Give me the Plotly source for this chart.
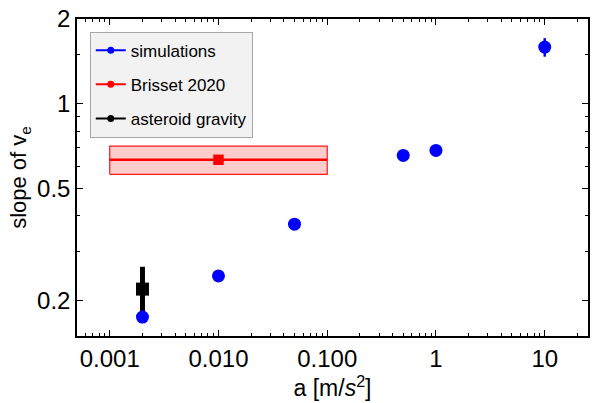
import plotly.graph_objects as go

# ---- data ----
sim_a = [0.002, 0.01, 0.05, 0.5, 1, 10]
sim_slope = [0.175, 0.245, 0.374, 0.656, 0.683, 1.59]
sim_err = [0, 0, 0, 0, 0, 0.12]

brisset_a = [0.01]
brisset_slope = [0.633]
brisset_amin = 0.001
brisset_amax = 0.1
brisset_low = 0.562
brisset_high = 0.708

ast_a = [0.002]
ast_slope = [0.22]
ast_err_plus = [0.044]
ast_err_minus = [0.044]

x_tickvals = [0.001, 0.01, 0.1, 1, 10]
x_ticktext = ["0.001", "0.010", "0.100", "1", "10"]
x_minor = [0.0006, 0.0007, 0.0008, 0.0009,
           0.002, 0.003, 0.004, 0.005, 0.006, 0.007, 0.008, 0.009,
           0.02, 0.03, 0.04, 0.05, 0.06, 0.07, 0.08, 0.09,
           0.2, 0.3, 0.4, 0.5, 0.6, 0.7, 0.8, 0.9,
           2, 3, 4, 5, 6, 7, 8, 9, 20]
y_tickvals = [0.2, 0.5, 1, 2]
y_ticktext = ["0.2", "0.5", "1", "2"]
y_minor = [0.3, 0.4, 0.6, 0.7, 0.8, 0.9, 1.5]

FONT = "Liberation Sans, Arial, sans-serif"

fig = go.Figure()

# Brisset band
fig.add_trace(go.Scatter(
    x=[brisset_amin, brisset_amax, brisset_amax, brisset_amin, brisset_amin],
    y=[brisset_low, brisset_low, brisset_high, brisset_high, brisset_low],
    mode="lines", fill="toself", fillcolor="rgba(255,0,0,0.2)",
    line=dict(color="rgba(255,0,0,0.9)", width=1.2),
    showlegend=False, hoverinfo="skip"))
fig.add_trace(go.Scatter(
    x=[brisset_amin, brisset_amax], y=[brisset_slope[0], brisset_slope[0]],
    mode="lines", line=dict(color="#ff0000", width=2.5),
    showlegend=False, hoverinfo="skip"))
fig.add_trace(go.Scatter(
    x=brisset_a, y=brisset_slope, mode="markers",
    marker=dict(symbol="square", size=10.5, color="#ff0000"),
    showlegend=False))

# asteroid gravity
fig.add_trace(go.Scatter(
    x=ast_a, y=ast_slope, mode="markers",
    marker=dict(symbol="square", size=13, color="black"),
    error_y=dict(type="data", array=ast_err_plus, arrayminus=ast_err_minus,
                 color="black", thickness=5, width=0),
    showlegend=False))

# simulations
fig.add_trace(go.Scatter(
    x=sim_a, y=sim_slope, mode="markers",
    marker=dict(symbol="circle", size=13, color="#0000ff"),
    error_y=dict(type="data", array=sim_err, color="#0000ff", thickness=2.5, width=0),
    showlegend=False))

# legend entries
for name, col, grp in [("simulations", "#0000ff", "a"),
                       ("Brisset 2020", "#ff0000", "b"),
                       ("asteroid gravity", "black", "c")]:
    fig.add_trace(go.Scatter(
        x=[None], y=[None], mode="lines+markers", name=name, legendgroup=grp,
        line=dict(color=col, width=2), marker=dict(color=col, size=7)))

axis_common = dict(
    type="log", showline=True, linecolor="black", linewidth=1.5,
    mirror="allticks", ticks="inside", ticklen=6, tickwidth=1.2, tickcolor="black",
    showgrid=False, zeroline=False,
    tickfont=dict(family=FONT, size=24, color="black"),
)

fig.update_xaxes(
    **axis_common,
    range=[-3.301, 1.398],
    tickmode="array", tickvals=x_tickvals, ticktext=x_ticktext,
    minor=dict(tickmode="array", tickvals=x_minor, ticks="inside", ticklen=3,
               tickwidth=1, tickcolor="black", showgrid=False),
    title=dict(text="a [m/<i>s</i><sup>2</sup>]",
               font=dict(family=FONT, size=23, color="black"), standoff=6),
)
fig.update_yaxes(
    **axis_common,
    range=[-0.824, 0.301],
    tickmode="array", tickvals=y_tickvals, ticktext=y_ticktext,
    minor=dict(tickmode="array", tickvals=y_minor, ticks="inside", ticklen=3,
               tickwidth=1, tickcolor="black", showgrid=False),
    title=dict(text="slope of v<sub>e</sub>",
               font=dict(family=FONT, size=22, color="black"), standoff=4),
)

fig.update_layout(
    width=592, height=403,
    margin=dict(l=77, r=2, t=19, b=67),
    paper_bgcolor="white", plot_bgcolor="white",
    font=dict(family=FONT, color="black"),
    legend=dict(x=0.025, y=0.96, xanchor="left", yanchor="top",
                bgcolor="#f2f2f2", bordercolor="#a6a6a6", borderwidth=1,
                font=dict(family=FONT, size=17, color="black"),
                tracegroupgap=9, itemwidth=30),
    showlegend=True,
)

fig.write_html("out.html", config={"displayModeBar": False},
               post_script="document.body.style.margin='0';document.body.style.padding='0';")
